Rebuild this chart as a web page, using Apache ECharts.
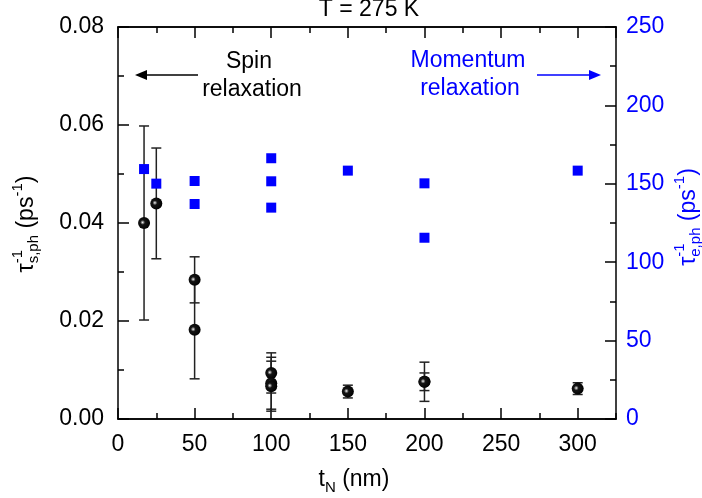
<!DOCTYPE html>
<html>
<head>
<meta charset="utf-8">
<script src="https://cdn.jsdelivr.net/npm/echarts@6/dist/echarts.min.js"></script>
<style>
  html, body { margin: 0; padding: 0; background: #fff; }
  #chart { width: 702px; height: 498px; }
</style>
</head>
<body>
<div id="chart"></div>
<script>
// Film thickness t_N (nm) for each spin-relaxation measurement
const spinThickness = [17, 25, 50, 50, 100, 100, 100, 150, 200, 200, 300];
// Phonon spin relaxation rate (ps^-1) and its uncertainty
const spinRate = [0.0400, 0.0440, 0.0284, 0.0182, 0.0094, 0.0073, 0.0067, 0.0056, 0.0076, 0.0076, 0.0062];
const spinError = [0.0198, 0.0113, 0.0047, 0.0100, 0.0041, 0.0053, 0.0051, 0.0013, 0.0018, 0.0040, 0.0012];

// Film thickness and phonon momentum relaxation rate (ps^-1)
const momThickness = [17, 25, 50, 50, 100, 100, 100, 150, 200, 200, 300];
const momRate = [159.4, 150.1, 151.8, 137.1, 166.3, 151.6, 134.8, 158.4, 150.3, 115.6, 158.4];

// Axis ranges and tick steps
const xRange = [0, 325];
const xStep = 50;
const leftRange = [0, 0.08];
const leftStep = 0.02;
const rightRange = [0, 250];
const rightStep = 50;

const FONT = '"Liberation Sans", Arial, sans-serif';
const FS = 23;
const BLUE = '#0000ff';

const measureCtx = document.createElement('canvas').getContext('2d');
function textWidth(t, size) {
  measureCtx.font = size + 'px ' + FONT;
  return measureCtx.measureText(t).width;
}

// Lays out text columns along a baseline; a column may stack a superscript over a subscript.
function formulaGroup(columns, color) {
  const children = [];
  let x = 0;
  columns.forEach(col => {
    let w = 0;
    col.forEach(p => {
      children.push({
        type: 'text',
        x: x,
        y: p.dy - 0.31 * p.s,
        style: {
          text: p.t, fontSize: p.s, fontFamily: FONT, fill: color,
          align: 'left', verticalAlign: 'middle',
          textAlign: 'left', textVerticalAlign: 'middle'
        }
      });
      w = Math.max(w, textWidth(p.t, p.s));
    });
    x += w;
  });
  return { children, width: x };
}

function axisTitle(columns, color, baselineX, centerY) {
  const g = formulaGroup(columns, color);
  return {
    type: 'group',
    x: baselineX,
    y: centerY + g.width / 2,
    rotation: Math.PI / 2,
    children: g.children
  };
}

const SUP = -11, SUB = 5, SMALL = 15;

const leftTitle = axisTitle([
  [{ t: 'τ', s: FS, dy: 0 }],
  [{ t: '-1', s: SMALL, dy: SUP }, { t: 's,ph', s: SMALL, dy: SUB }],
  [{ t: ' (ps', s: FS, dy: 0 }],
  [{ t: '-1', s: SMALL, dy: SUP }],
  [{ t: ')', s: FS, dy: 0 }]
], '#000', 34, 224);

const rightTitle = axisTitle([
  [{ t: 'τ', s: FS, dy: 0 }],
  [{ t: '-1', s: SMALL, dy: SUP }, { t: 'e,ph', s: SMALL, dy: SUB }],
  [{ t: ' (ps', s: FS, dy: 0 }],
  [{ t: '-1', s: SMALL, dy: SUP }],
  [{ t: ')', s: FS, dy: 0 }]
], BLUE, 696, 217);

const bottomTitleParts = formulaGroup([
  [{ t: 't', s: FS, dy: 0 }],
  [{ t: 'N', s: SMALL, dy: 6 }],
  [{ t: ' (nm)', s: FS, dy: 0 }]
], '#000');
const bottomTitle = { type: 'group', x: 354 - bottomTitleParts.width / 2, y: 487, children: bottomTitleParts.children };

function plainText(t, x, y, color) {
  return {
    type: 'text', x, y,
    style: { text: t, fontSize: FS, fontFamily: FONT, fill: color,
      align: 'center', verticalAlign: 'middle', textAlign: 'center', textVerticalAlign: 'middle' }
  };
}

function arrow(x1, x2, y, color) {
  const dir = Math.sign(x2 - x1);
  const head = 12, half = 5;
  return {
    type: 'group',
    children: [
      { type: 'line', shape: { x1: x1, y1: y, x2: x2 - dir * head, y2: y }, style: { stroke: color, lineWidth: 1.5 } },
      { type: 'polygon', shape: { points: [[x2, y], [x2 - dir * head, y - half], [x2 - dir * head, y + half]] }, style: { fill: color } }
    ]
  };
}

const axisLineStyle = { color: '#000', width: 1.5 };

function xAxisDef(position, step, tickLen, withLabels) {
  return {
    type: 'value', position, min: xRange[0], max: xRange[1], interval: step,
    axisLine: { show: true, onZero: false, lineStyle: axisLineStyle },
    axisTick: { show: true, inside: true, length: tickLen, lineStyle: axisLineStyle },
    axisLabel: withLabels ? {
      show: true, fontSize: FS, fontFamily: FONT, color: '#000', margin: 14,
      showMaxLabel: false,
      formatter: v => (v % xStep === 0 ? String(v) : '')
    } : { show: false },
    splitLine: { show: false }
  };
}

// Glossy black bead: small bright highlight on a dark body
const sphereColor = {
  type: 'radial', x: 0.38, y: 0.45, r: 0.62,
  colorStops: [
    { offset: 0, color: '#ffffff' },
    { offset: 0.12, color: '#9a9a9a' },
    { offset: 0.32, color: '#141414' },
    { offset: 1, color: '#000' }
  ]
};

const chart = echarts.init(document.getElementById('chart'), null, { renderer: 'canvas' });

chart.setOption({
  animation: false,
  backgroundColor: '#fff',
  grid: { left: 118, right: 86, top: 27, bottom: 79, containLabel: false },
  xAxis: [
    xAxisDef('bottom', xStep, 11, true),
    xAxisDef('bottom', xStep / 2, 6, false),
    xAxisDef('top', xStep, 11, false),
    xAxisDef('top', xStep / 2, 6, false)
  ],
  yAxis: [
    {
      type: 'value', position: 'left', min: leftRange[0], max: leftRange[1], interval: leftStep,
      axisLine: { show: true, onZero: false, lineStyle: axisLineStyle },
      axisTick: { show: true, inside: true, length: 11, lineStyle: axisLineStyle },
      minorTick: { show: true, splitNumber: 2, length: 6, lineStyle: axisLineStyle },
      axisLabel: { fontSize: FS, fontFamily: FONT, color: '#000', margin: 14, formatter: v => v.toFixed(2) },
      splitLine: { show: false }
    },
    {
      type: 'value', position: 'right', min: rightRange[0], max: rightRange[1], interval: rightStep,
      axisLine: { show: true, onZero: false, lineStyle: axisLineStyle },
      axisTick: { show: true, inside: true, length: 11, lineStyle: axisLineStyle },
      minorTick: { show: true, splitNumber: 2, length: 6, lineStyle: axisLineStyle },
      axisLabel: { fontSize: FS, fontFamily: FONT, color: BLUE, margin: 10 },
      splitLine: { show: false }
    }
  ],
  series: [
    {
      name: 'spin error',
      type: 'custom',
      xAxisIndex: 0, yAxisIndex: 0,
      data: spinThickness.map((x, i) => [x, spinRate[i] - spinError[i], spinRate[i] + spinError[i]]),
      encode: { x: 0, y: [1, 2] },
      z: 2,
      renderItem: function (params, api) {
        const x = api.value(0);
        const lo = api.coord([x, api.value(1)]);
        const hi = api.coord([x, api.value(2)]);
        const hw = 5;
        const st = { stroke: '#222', lineWidth: 1.5 };
        return {
          type: 'group',
          children: [
            { type: 'line', shape: { x1: lo[0], y1: lo[1], x2: hi[0], y2: hi[1] }, style: st },
            { type: 'line', shape: { x1: lo[0] - hw, y1: lo[1], x2: lo[0] + hw, y2: lo[1] }, style: st },
            { type: 'line', shape: { x1: hi[0] - hw, y1: hi[1], x2: hi[0] + hw, y2: hi[1] }, style: st }
          ]
        };
      }
    },
    {
      name: 'spin',
      type: 'scatter',
      xAxisIndex: 0, yAxisIndex: 0,
      data: spinThickness.map((x, i) => [x, spinRate[i]]),
      symbol: 'circle', symbolSize: 12,
      itemStyle: { color: sphereColor, opacity: 1 },
      z: 3
    },
    {
      name: 'momentum',
      type: 'scatter',
      xAxisIndex: 0, yAxisIndex: 1,
      data: momThickness.map((x, i) => [x, momRate[i]]),
      symbol: 'rect', symbolSize: 10,
      itemStyle: { color: BLUE, opacity: 1 },
      z: 4
    }
  ],
  graphic: [
    plainText('T = 275 K', 369, 10, '#000'),
    leftTitle,
    rightTitle,
    bottomTitle,
    plainText('Spin', 249, 62, '#000'),
    plainText('relaxation', 252, 90, '#000'),
    arrow(198, 135, 75, '#000'),
    plainText('Momentum', 468, 61, BLUE),
    plainText('relaxation', 470, 89, BLUE),
    arrow(537, 601, 75, BLUE)
  ]
});
</script>
</body>
</html>
